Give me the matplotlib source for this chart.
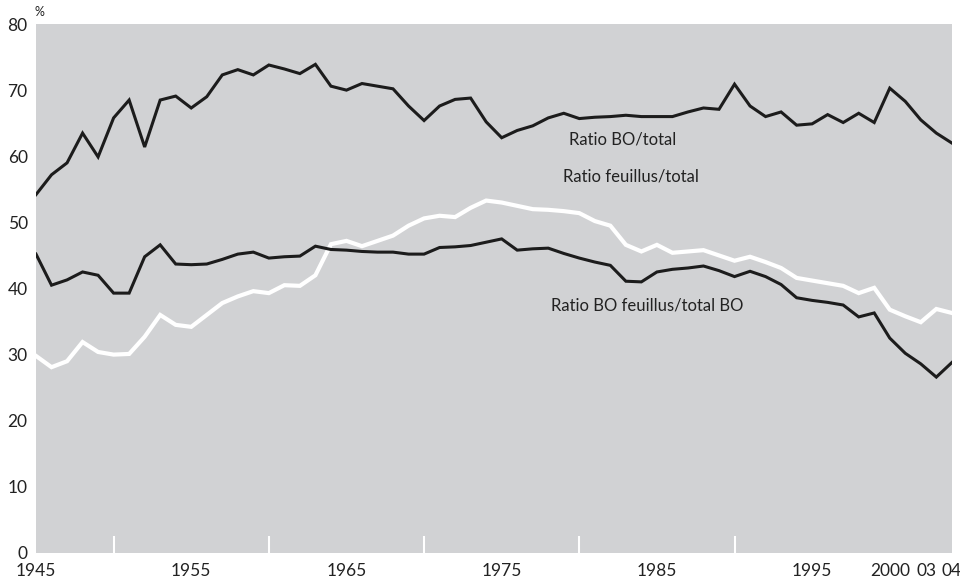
"""Ratios BO/total, feuillus/total and BO feuillus/total BO, 1945-2004."""

import matplotlib

matplotlib.use("Agg")
import matplotlib.pyplot as plt
import numpy as np
from matplotlib.ticker import FixedLocator

years = np.arange(1945, 2005)

ratio_bo_total = [
    54.2, 57.2, 59.0, 63.5, 59.9, 65.8, 68.5, 61.4, 68.5, 69.1,
    67.3, 69.0, 72.3, 73.1, 72.3, 73.8, 73.2, 72.5, 73.9, 70.6,
    70.0, 71.0, 70.6, 70.2, 67.6, 65.4, 67.6, 68.6, 68.8, 65.2,
    62.8, 63.9, 64.6, 65.8, 66.5, 65.7, 65.9, 66.0, 66.2, 66.0,
    66.0, 66.0, 66.7, 67.3, 67.1, 70.9, 67.6, 66.0, 66.7, 64.7,
    64.9, 66.3, 65.1, 66.5, 65.1, 70.3, 68.3, 65.5, 63.5, 62.0,
]

ratio_feuillus_total = [
    29.8, 28.1, 29.0, 31.9, 30.4, 30.0, 30.1, 32.7, 36.0, 34.5,
    34.2, 36.0, 37.8, 38.8, 39.6, 39.3, 40.5, 40.4, 42.0, 46.7,
    47.2, 46.4, 47.2, 48.0, 49.5, 50.6, 51.0, 50.8, 52.2, 53.3,
    53.0, 52.5, 52.0, 51.9, 51.7, 51.4, 50.2, 49.5, 46.6, 45.6,
    46.6, 45.4, 45.6, 45.8, 45.0, 44.2, 44.8, 44.0, 43.1, 41.6,
    41.2, 40.8, 40.4, 39.3, 40.1, 36.8, 35.8, 34.9, 36.9, 36.3,
]

ratio_bo_feuillus = [
    45.2, 40.5, 41.3, 42.5, 42.0, 39.3, 39.3, 44.8, 46.6, 43.7,
    43.6, 43.7, 44.4, 45.2, 45.5, 44.6, 44.8, 44.9, 46.4, 45.9,
    45.8, 45.6, 45.5, 45.5, 45.2, 45.2, 46.2, 46.3, 46.5, 47.0,
    47.5, 45.8, 46.0, 46.1, 45.3, 44.6, 44.0, 43.5, 41.1, 41.0,
    42.5, 42.9, 43.1, 43.4, 42.7, 41.8, 42.6, 41.8, 40.6, 38.6,
    38.2, 37.9, 37.5, 35.7, 36.3, 32.5, 30.2, 28.6, 26.6, 28.8,
]

x_label_pos = [1945, 1955, 1965, 1975, 1985, 1995, 2000, 2003, 2004]
x_labels = ["1945", "1955", "1965", "1975", "1985", "1995", "2000", "03", "04"]
x_marks = np.arange(1950, 2001, 5)
y_labels = np.arange(0, 81, 10)

plt.rcParams["font.family"] = ["Lato", "DejaVu Sans"]

fig = plt.figure(figsize=(9.6, 5.8), dpi=100)
ax = fig.add_axes([0.0375, 0.0466, 0.954, 0.912])
ax.set_facecolor("#d1d2d4")
for s in ax.spines.values():
    s.set_visible(False)

ax.plot(years, ratio_feuillus_total, color="white", lw=3.0, solid_joinstyle="miter")
ax.plot(years, ratio_bo_feuillus, color="#1c1c1c", lw=2.2, solid_joinstyle="miter")
ax.plot(years, ratio_bo_total, color="#1c1c1c", lw=2.2, solid_joinstyle="miter")

ax.set_xlim(1945, 2004)
ax.set_ylim(0, 80)

# x axis: labels without ticks, white inward marks every 5 years
ax.set_xticks(x_label_pos, x_labels)
ax.xaxis.set_minor_locator(FixedLocator(x_marks))
ax.tick_params(axis="x", which="major", length=0, pad=7, labelsize=12.5, colors="#222222")
ax.tick_params(axis="x", which="minor", direction="in", length=12, width=1.5, color="white")
for lab in ax.get_xticklabels():
    if lab.get_text() == "03":
        lab.set_horizontalalignment("right")

# y axis: labels 0-80, white inward marks 10-70
ax.set_yticks(y_labels)
ax.yaxis.set_minor_locator(FixedLocator(y_labels[1:-1]))
ax.tick_params(axis="y", which="major", length=0, pad=6, labelsize=12.5, colors="#222222")
ax.tick_params(axis="y", which="minor", direction="in", length=14, width=1.5, color="white")

ax.text(-0.002, 1.012, "%", transform=ax.transAxes, fontsize=9, color="#222222",
        ha="left", va="bottom")

ax.text(1982.8, 62.5, "Ratio BO/total", fontsize=12, color="#222222", ha="center", va="center")
ax.text(1983.3, 56.9, "Ratio feuillus/total", fontsize=12, color="#222222", ha="center", va="center")
ax.text(1984.4, 37.5, "Ratio BO feuillus/total BO", fontsize=12, color="#222222",
        ha="center", va="center")

fig.savefig("out.png", dpi=100)
plt.close(fig)
